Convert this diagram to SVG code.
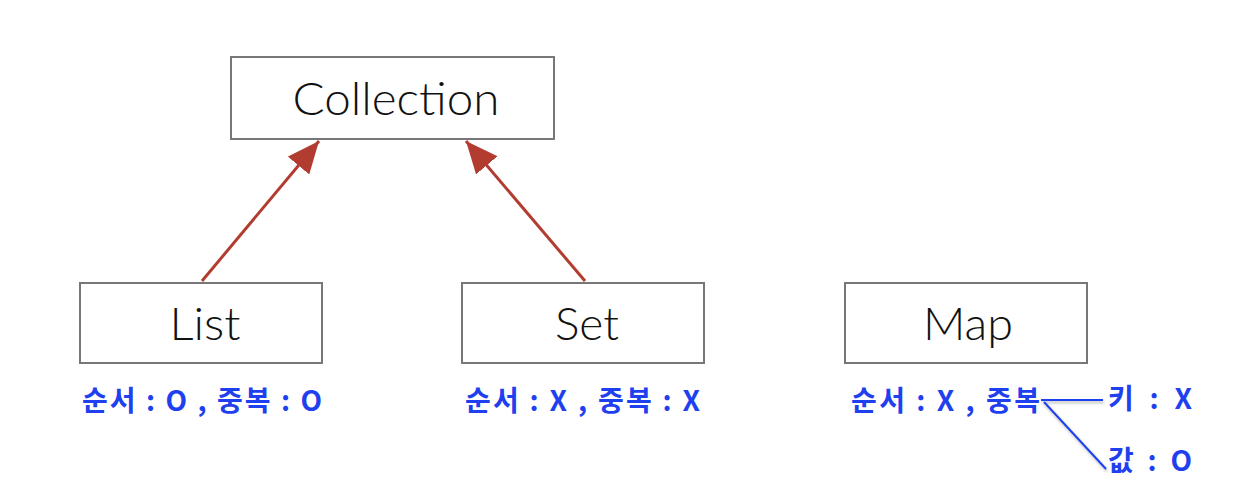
<svg xmlns="http://www.w3.org/2000/svg" width="1236" height="504" viewBox="0 0 1236 504">
<style>
.box{fill:#fff;stroke:#777;stroke-width:2}
.title{font-family:"Lato","Liberation Sans",sans-serif;font-weight:300;font-size:46px;fill:#111;text-anchor:middle}
.lbl{font-family:"Noto Sans CJK KR","Liberation Sans",sans-serif;font-weight:bold;font-size:28px;fill:#1f40ee}
.arr{stroke:#b33c31;stroke-width:3;fill:none}
.blue{stroke:#1f40ee;stroke-width:2;fill:none}
</style>
<defs>
<marker id="ah" markerUnits="userSpaceOnUse" markerWidth="34" markerHeight="28" refX="32" refY="14" orient="auto">
<path d="M0,0 L32,14 L0,28 Z" fill="#b33c31"/>
</marker>
<filter id="sh" x="-20%" y="-20%" width="140%" height="140%">
<feDropShadow dx="1" dy="2" stdDeviation="1.5" flood-color="#000" flood-opacity="0.3"/>
</filter>
</defs>
<rect width="1236" height="504" fill="#fff"/>
<g id="connectors">
<line class="arr" x1="202" y1="281" x2="319" y2="141" marker-end="url(#ah)"/>
<line class="arr" x1="585" y1="281" x2="466" y2="141" marker-end="url(#ah)"/>
<g filter="url(#sh)">
<line class="blue" x1="1041" y1="400" x2="1103" y2="400"/>
<line class="blue" x1="1044" y1="402" x2="1106" y2="469"/>
</g>
</g>
<g id="collection">
<rect class="box" x="231" y="57" width="323" height="82"/>
<text class="title" x="396" y="115" textLength="207" lengthAdjust="spacingAndGlyphs">Collection</text>
</g>
<g id="list">
<rect class="box" x="80" y="283" width="242" height="80"/>
<text class="title" x="205" y="340" textLength="71" lengthAdjust="spacingAndGlyphs">List</text>
<text class="lbl" x="82" y="411" textLength="240">순서 : O , 중복 : O</text>
</g>
<g id="set">
<rect class="box" x="462" y="283" width="242" height="80"/>
<text class="title" x="587" y="340">Set</text>
<text class="lbl" x="465" y="411" textLength="235">순서 : X , 중복 : X</text>
</g>
<g id="map">
<rect class="box" x="845" y="283" width="242" height="80"/>
<text class="title" x="968" y="340" textLength="90" lengthAdjust="spacingAndGlyphs">Map</text>
<text class="lbl" x="851" y="411" textLength="189">순서 : X , 중복</text>
<text class="lbl" x="1108" y="409" textLength="84">키 : X</text>
<text class="lbl" x="1108" y="471" textLength="84">값 : O</text>
</g>
</svg>
